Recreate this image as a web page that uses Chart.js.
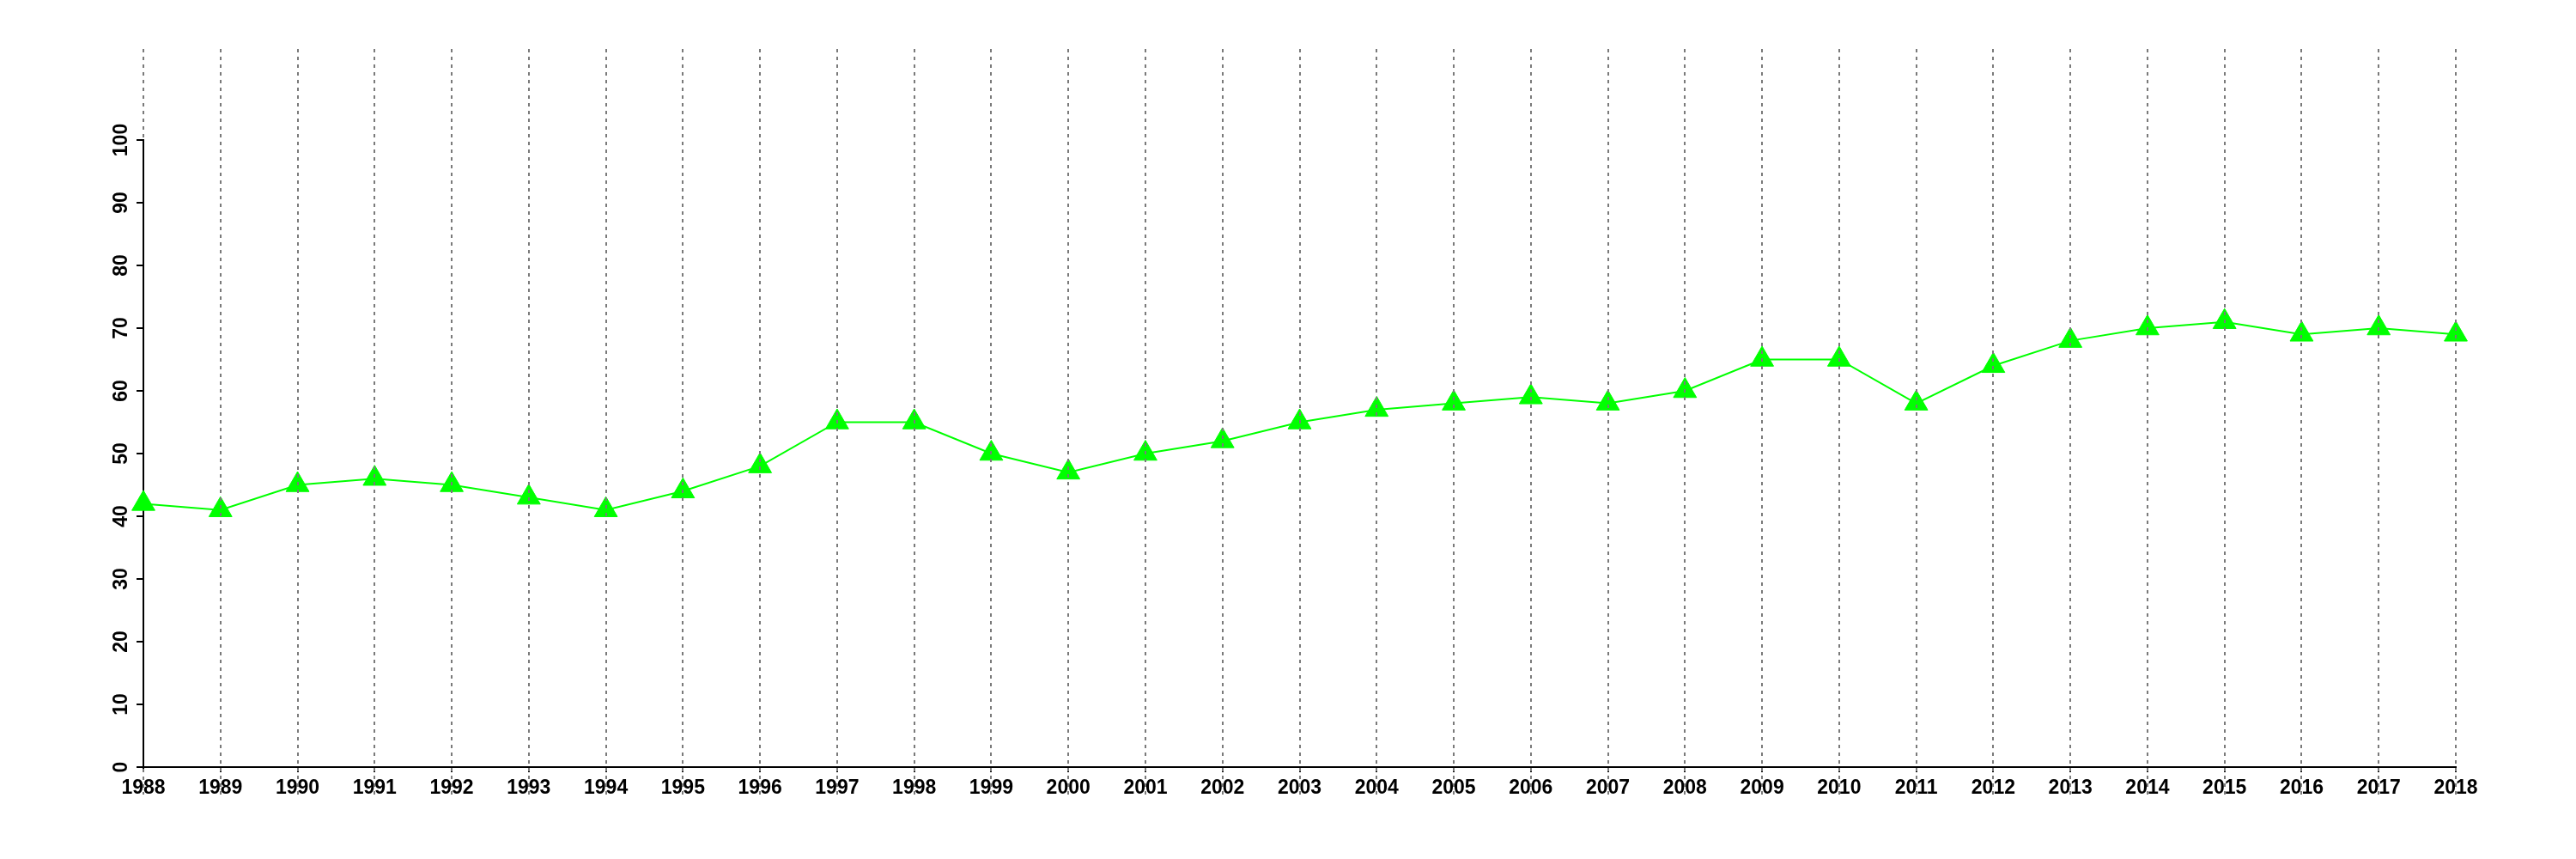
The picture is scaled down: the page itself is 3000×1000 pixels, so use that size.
<!DOCTYPE html>
<html>
<head>
<meta charset="utf-8">
<script src="https://cdn.jsdelivr.net/npm/chart.js@4/dist/chart.umd.min.js"></script>
<style>
  html, body { margin: 0; padding: 0; background: #fff; }
  #wrap { width: 3000px; height: 1000px; position: relative; }
</style>
</head>
<body>
<div id="wrap"><canvas id="chart" width="3000" height="1000"></canvas></div>
<script>
// valores
const years = ['1988','1989','1990','1991','1992','1993','1994','1995','1996','1997',
  '1998','1999','2000','2001','2002','2003','2004','2005','2006','2007',
  '2008','2009','2010','2011','2012','2013','2014','2015','2016','2017','2018'];
const values = [42, 41, 45, 46, 45, 43, 41, 44, 48, 55,
  55, 50, 47, 50, 52, 55, 57, 58, 59, 58,
  60, 65, 65, 58, 64, 68, 70, 71, 69, 70, 69];
const yMin = 0, yMax = 100, yStep = 10;

const FONT = { family: "'Liberation Sans', Arial, sans-serif", size: 23, weight: 'bold' };

/* linhas verticais pontilhadas, por cima de tudo (como no original);
   a do primeiro ano não cobre o eixo y sólido */
const dottedGrid = {
  id: 'dottedGrid',
  afterDraw(chart){
    const { ctx, chartArea, scales: { x } } = chart;
    const top = 57, bottom = 925;
    ctx.save();
    ctx.strokeStyle = '#7a7a7a';
    ctx.lineWidth = 2;
    ctx.setLineDash([4, 5]);
    x.ticks.forEach((t, i) => {
      const px = Math.round(x.getPixelForTick(i));
      ctx.beginPath();
      if(i === 0){
        ctx.moveTo(px, top); ctx.lineTo(px, chartArea.top);
        ctx.moveTo(px, chartArea.bottom + 2); ctx.lineTo(px, bottom);
      } else {
        ctx.moveTo(px, top); ctx.lineTo(px, bottom);
      }
      ctx.stroke();
    });
    ctx.restore();
  }
};

new Chart(document.getElementById('chart').getContext('2d'), {
  type: 'line',
  data: {
    labels: years,
    datasets: [{
      data: values,
      borderColor: '#00ff00',
      backgroundColor: '#00ff00',
      borderWidth: 2,
      tension: 0,
      pointStyle: 'triangle',
      pointRadius: 15.5,
      pointBorderWidth: 1,
      pointBorderColor: '#00ff00',
      pointBackgroundColor: '#00ff00',
      fill: false
    }]
  },
  options: {
    responsive: false, animation: false,
    layout: { padding: { left: 0, right: 140, top: 163, bottom: 67 } },
    plugins: { legend: { display: false }, tooltip: { enabled: false } },
    scales: {
      x: {
        type: 'category', offset: false,
        afterFit: s => { s.height = 40; },
        border: { display: true, color: '#000', width: 2 },
        grid: { display: true, drawOnChartArea: false, drawTicks: true, tickLength: 6, color: '#000', lineWidth: 2 },
        ticks: { color: '#000', font: FONT, autoSkip: false, maxRotation: 0, minRotation: 0, padding: 5 }
      },
      y: {
        min: yMin, max: yMax,
        afterFit: s => { s.width = 167; },
        border: { display: true, color: '#000', width: 2 },
        grid: { display: true, drawOnChartArea: false, drawTicks: true, tickLength: 8, color: '#000', lineWidth: 2 },
        ticks: { color: '#000', font: FONT, stepSize: yStep, minRotation: 90, maxRotation: 90,
                 crossAlign: 'center', padding: -2 }
      }
    }
  },
  plugins: [dottedGrid]
});
</script>
</body>
</html>
